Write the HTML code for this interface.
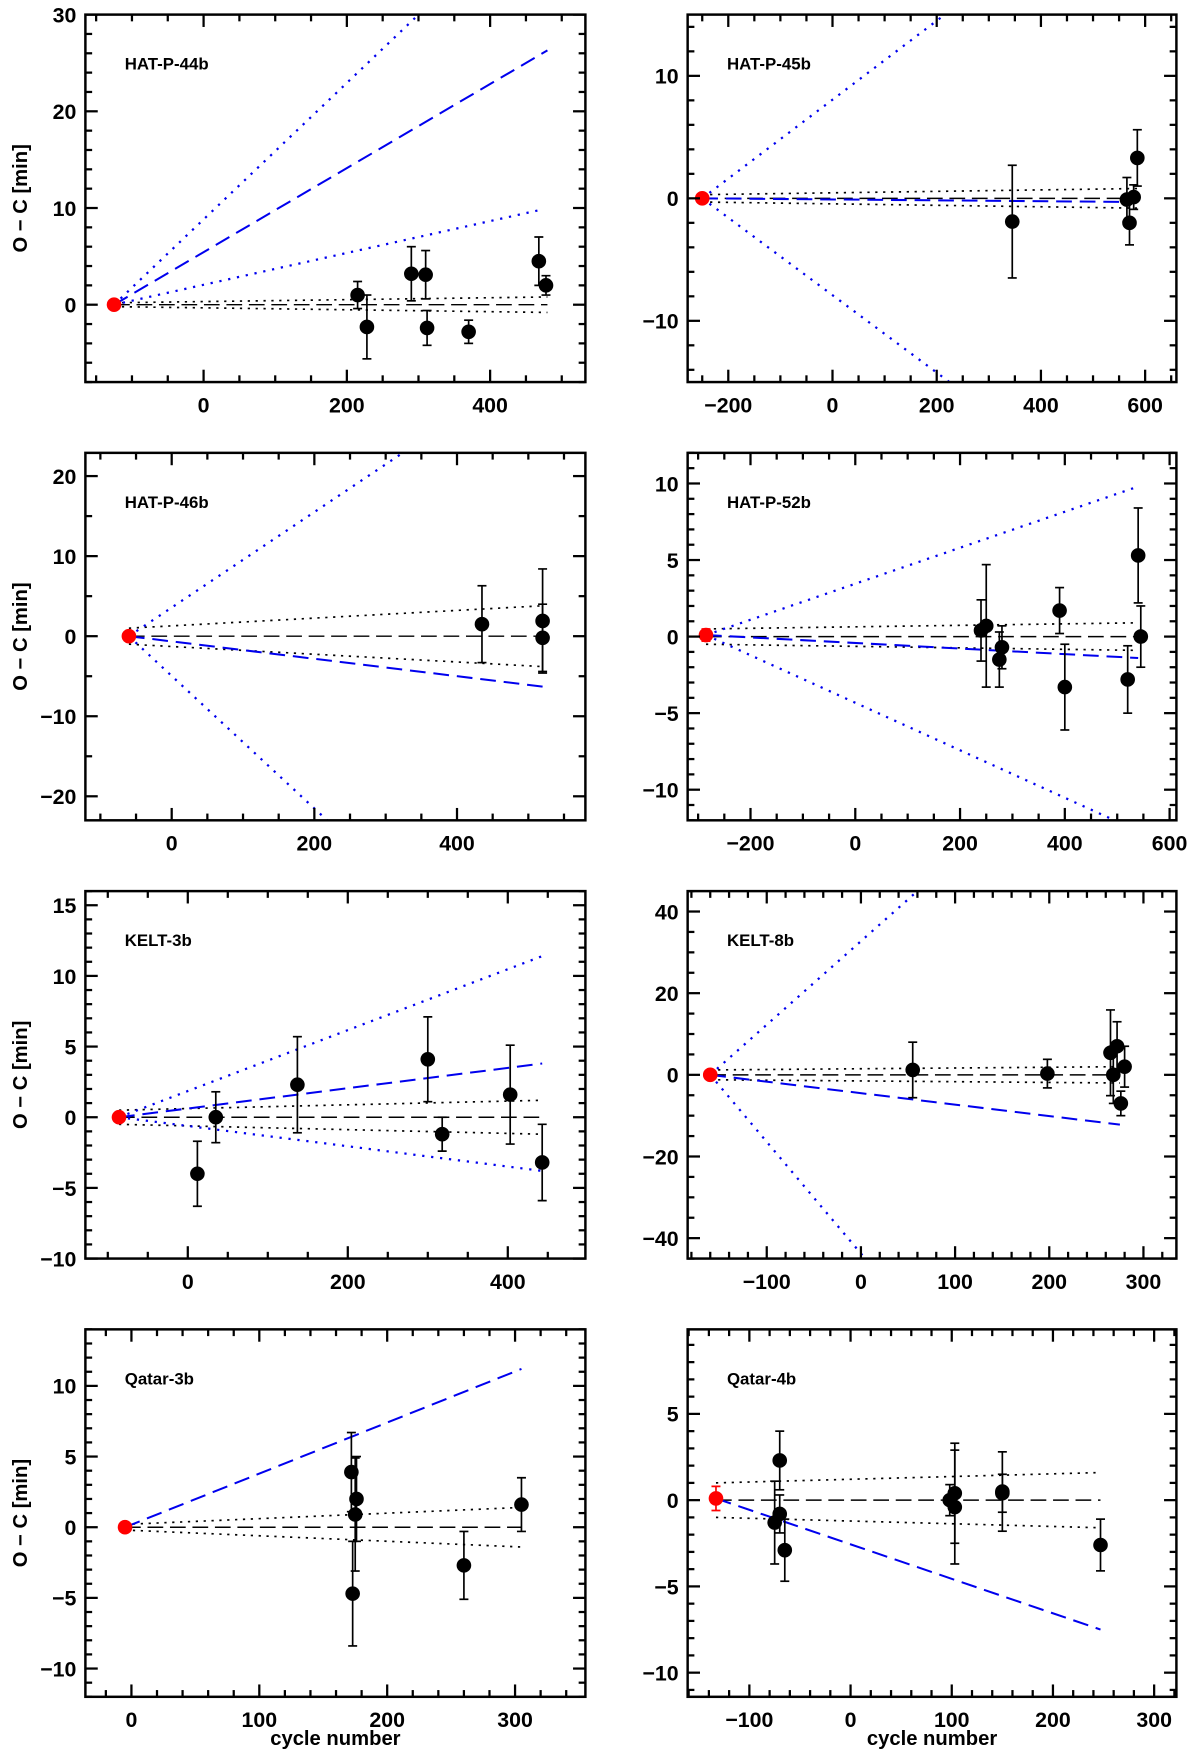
<!DOCTYPE html>
<html><head><meta charset="utf-8">
<style>
html,body{margin:0;padding:0;background:#fff;overflow:hidden;}
svg{display:block;}
text{font-family:"Liberation Sans",sans-serif;font-weight:bold;fill:#000;}
</style></head>
<body>
<svg id="fig" width="1200" height="1753" viewBox="0 0 1068 1560" preserveAspectRatio="none" xmlns="http://www.w3.org/2000/svg"></svg>
<script>
// ---- data ----
const names = ["HAT-P-44b","HAT-P-45b","HAT-P-46b","HAT-P-52b","KELT-3b","KELT-8b","Qatar-3b","Qatar-4b"];
const xRanges = [[-165,533],[-278,660],[-121,580],[-320,613],[-128,497],[-184,335],[-36,355],[-161,322]];
const yRanges = [[-8,30],[-15,15],[-23,22.9],[-12,12],[-10,16],[-45,45],[-12,14],[-11.4,9.9]];
const xMajor = [200,200,200,200,200,100,100,100];
const xMinor = [50,50,50,50,50,20,20,20];
const yMajor = [10,10,10,5,5,20,5,5];
const yMinor = [2,2,5,1,1,5,1,1];
const refPoints = [[-125,0,0],[-250,0,0],[-60,0,0],[-285,0.1,0.4],[-86,0,0],[-160,0,0],[-5,0,0],[-133,0.1,0.7]];
const ptsX = [
 [215,228,290,310,312,370,468,478],
 [345,565,570,578,585],
 [435,520,520],
 [240,250,275,280,390,400,520,540,545],
 [12,35,137,300,318,403,443],
 [55,198,265,268,272,276,280],
 [172,173,175,176,260,305],
 [-75,-70,-70,-65,98,103,103,150,150,247]];
const ptsY = [
 [1,-2.3,3.2,3.1,-2.4,-2.8,4.5,2],
 [-1.9,-0.1,-2,0.1,3.3],
 [1.5,1.9,-0.2],
 [0.4,0.7,-1.5,-0.7,1.7,-3.3,-2.8,5.3,0],
 [-4,0,2.3,4.1,-1.2,1.6,-3.2],
 [1.2,0.3,5.4,0,7,-7,2],
 [3.9,-4.7,0.9,2,-2.7,1.6],
 [-1.3,2.3,-0.8,-2.9,0,0.4,-0.4,0.4,0.5,-2.6]];
const ptsErr = [
 [1.4,3.3,2.8,2.5,1.8,1.2,2.5,1],
 [4.6,1.8,1.8,1,2.3],
 [4.8,6.5,4.2],
 [2,4,1.8,1.4,1.5,2.8,2.2,3.1,2],
 [2.3,1.8,3.4,3,1.2,3.5,2.7],
 [6.8,3.5,10.5,7,6,3,5],
 [2.8,3.7,4,3,2.4,1.9],
 [2.4,1.7,1.1,1.8,0.9,2.9,3.3,1.1,2.3,1.5]];
// fit lines: [xEnd, yEnd] from reference point
const blueDashEnd = [[480,26.3],[585,-0.3],[520,-6.3],[540,-1.4],[443,3.8],[275,-12.2],[305,11.2],[247,-7.5]];
const blueDotUpEnd = [[480,42.7],[585,26.9],[520,34.6],[540,9.8],[443,11.4],[275,89],null,null];
const blueDotLoEnd = [[470,9.8],[585,-26.4],[520,-48],[540,-12.7],[443,-3.8],[275,-119],null,null];
const blackDotStart = [0.2,0.3,1.0,0.5,0.5,1.2,0.2,1.0];
const blackDotEnd = [0.8,0.8,3.8,0.9,1.2,2.0,1.4,1.6];

// ---- layout ----
const NS="http://www.w3.org/2000/svg";
const svg=document.getElementById('fig');
const colX=[[76,521],[612,1047]];
const rowY=[[13,340],[403,730],[793,1120],[1183,1510]];
function mk(tag,attrs,parent){const e=document.createElementNS(NS,tag);for(const k in attrs)e.setAttribute(k,attrs[k]);(parent||svg).appendChild(e);return e;}

names.forEach((nm,i)=>{
  const [L,R]=colX[i%2],[T,B]=rowY[Math.floor(i/2)];
  const [x0,x1]=xRanges[i],[y0,y1]=yRanges[i];
  const sx=v=>L+(v-x0)/(x1-x0)*(R-L);
  const sy=v=>B-(v-y0)/(y1-y0)*(B-T);
  const g=mk('g',{});
  
  
  const cid='clip'+i;
  const cp=mk('clipPath',{id:cid},g);mk('rect',{x:L,y:T,width:R-L,height:B-T},cp);
  const plot=mk('g',{'clip-path':'url(#'+cid+')'},g);
  const tk=mk('g',{stroke:'#000','stroke-width':2},g);
  
  
  for(let v=Math.ceil(x0/xMinor[i])*xMinor[i];v<=x1;v+=xMinor[i]){
    const maj=Math.abs(v/xMajor[i]-Math.round(v/xMajor[i]))<1e-6;const len=maj?11:6;const x=sx(v);
    mk('line',{x1:x,y1:B,x2:x,y2:B-len},tk);mk('line',{x1:x,y1:T,x2:x,y2:T+len},tk);
    if(maj){const t=mk('text',{x:x,y:B+27,'text-anchor':'middle','font-size':19},g);t.textContent=(v<0?'\u2212':'')+Math.abs(v);
      }
  }
  for(let v=Math.ceil(y0/yMinor[i])*yMinor[i];v<=y1;v+=yMinor[i]){
    const maj=Math.abs(v/yMajor[i]-Math.round(v/yMajor[i]))<1e-6;const len=maj?11:6;const y=sy(v);
    mk('line',{x1:L,y1:y,x2:L+len,y2:y},tk);mk('line',{x1:R,y1:y,x2:R-len,y2:y},tk);
    if(maj){const t=mk('text',{x:L-8,y:y+7,'text-anchor':'end','font-size':19},g);t.textContent=(v<0?'\u2212':'')+Math.abs(v);
      }
  }
  const [rx,ry,re]=refPoints[i];
  const xe=blueDashEnd[i][0];
  mk('line',{x1:sx(rx),y1:sy(0),x2:sx(xe),y2:sy(0),stroke:'#000','stroke-width':1.3,'stroke-dasharray':'14,6'},plot);
  mk('line',{x1:sx(rx),y1:sy(blackDotStart[i]),x2:sx(xe),y2:sy(blackDotEnd[i]),stroke:'#000','stroke-width':1.5,'stroke-dasharray':'2,5'},plot);
  mk('line',{x1:sx(rx),y1:sy(-blackDotStart[i]),x2:sx(xe),y2:sy(-blackDotEnd[i]),stroke:'#000','stroke-width':1.5,'stroke-dasharray':'2,5'},plot);
  const bd=mk('line',{x1:sx(rx),y1:sy(ry),x2:sx(blueDashEnd[i][0]),y2:sy(blueDashEnd[i][1]),stroke:'#0000ee','stroke-width':1.8,'stroke-dasharray':'14,7'},plot);
  
  [blueDotUpEnd[i],blueDotLoEnd[i]].forEach(e=>{ if(!e) return;
    const l=mk('line',{x1:sx(rx),y1:sy(ry),x2:sx(e[0]),y2:sy(e[1]),stroke:'#0000ee','stroke-width':2,'stroke-dasharray':'2,6'},plot);
    });
  ptsX[i].forEach((px,j)=>{
    const py=ptsY[i][j],pe=ptsErr[i][j],cx=sx(px);
    const pg=mk('g',{},plot);
    
    mk('line',{x1:cx,y1:sy(py-pe),x2:cx,y2:sy(py+pe),stroke:'#000','stroke-width':1.5},pg);
    mk('line',{x1:cx-4,y1:sy(py-pe),x2:cx+4,y2:sy(py-pe),stroke:'#000','stroke-width':1.5},pg);
    mk('line',{x1:cx-4,y1:sy(py+pe),x2:cx+4,y2:sy(py+pe),stroke:'#000','stroke-width':1.5},pg);
    mk('circle',{cx:cx,cy:sy(py),r:6.5,fill:'#000'},pg);
  });
  const rg=mk('g',{},plot);
  
  if(re>0){mk('line',{x1:sx(rx),y1:sy(ry-re),x2:sx(rx),y2:sy(ry+re),stroke:'#f00','stroke-width':1.5},rg);
    mk('line',{x1:sx(rx)-4,y1:sy(ry-re),x2:sx(rx)+4,y2:sy(ry-re),stroke:'#f00','stroke-width':1.5},rg);
    mk('line',{x1:sx(rx)-4,y1:sy(ry+re),x2:sx(rx)+4,y2:sy(ry+re),stroke:'#f00','stroke-width':1.5},rg);}
  mk('circle',{cx:sx(rx),cy:sy(ry),r:6.5,fill:'#f00'},rg);
  const fr=mk('rect',{x:L,y:T,width:R-L,height:B-T,fill:'none',stroke:'#000','stroke-width':2.2},g);
  
  const tt=mk('text',{x:L+35,y:T+49,'font-size':15},g);tt.textContent=nm;
  
  if(i%2===0){const yl=mk('text',{x:0,y:0,'font-size':18,'text-anchor':'middle',transform:`translate(24,${(T+B)/2}) rotate(-90)`},g);
    yl.textContent='O \u2212 C [min]';}
  if(i>=6){const xl=mk('text',{x:(L+R)/2,y:B+43,'font-size':18,'text-anchor':'middle'},g);
    xl.textContent='cycle number';}
});
</script>
</body></html>
